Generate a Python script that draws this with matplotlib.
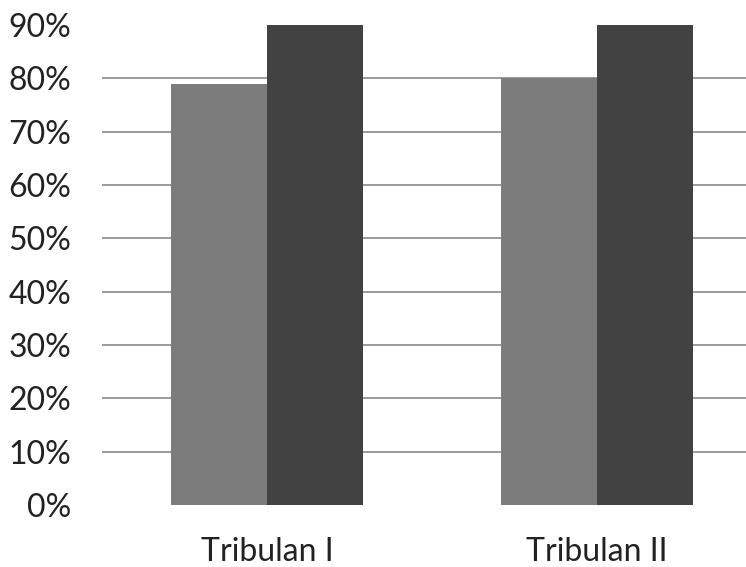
import numpy as np
import matplotlib.pyplot as plt

categories = ['Tribulan I', 'Tribulan II']
series_a = [79, 80]
series_b = [90, 90]
y_ticks = [0, 10, 20, 30, 40, 50, 60, 70, 80, 90]


def main():
    plt.rcParams['font.family'] = ['Lato', 'DejaVu Sans']
    fig = plt.figure(figsize=(7.46, 5.67), dpi=100)
    ax = fig.add_axes([102 / 746, 62 / 567, 660 / 746, 480 / 567])

    x = np.arange(len(categories))
    width = 0.29
    ax.bar(x - width / 2, series_a, width, color='#7c7c7c', zorder=2)
    ax.bar(x + width / 2, series_b, width, color='#424242', zorder=2)

    # gridlines from 10% to 80%
    for t in y_ticks[1:-1]:
        ax.axhline(t, color='#8a8a8a', linewidth=1.2, zorder=1)

    ax.set_xlim(-0.5, 1.5)
    ax.set_ylim(0, 90)
    ax.set_yticks(y_ticks)
    ax.set_yticklabels(['{}%'.format(t) for t in y_ticks], fontsize=23,
                       color='#222222')
    ax.set_xticks(x)
    ax.set_xticklabels(categories, fontsize=23, color='#222222')
    ax.tick_params(axis='y', length=0, pad=22)
    ax.tick_params(axis='x', length=0, pad=23)
    for side in ax.spines.values():
        side.set_visible(False)

    fig.savefig('out.png', dpi=100)


if __name__ == '__main__':
    main()
